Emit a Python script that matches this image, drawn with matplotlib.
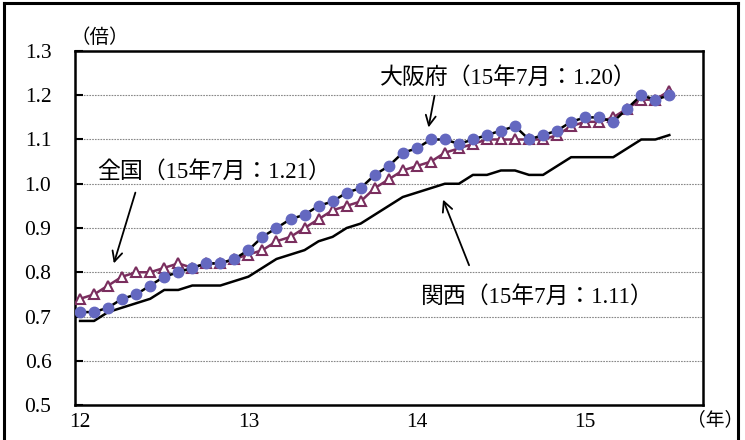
import matplotlib
matplotlib.use("Agg")
import matplotlib.pyplot as plt
from matplotlib.lines import Line2D

plt.rcParams['font.family'] = ['Liberation Serif', 'Noto Sans CJK JP']

# 月次データ: 2012年1月 ～ 2015年7月
osaka = [0.71, 0.71, 0.72, 0.74, 0.75, 0.77, 0.79, 0.80, 0.81, 0.82,
         0.82, 0.83, 0.85, 0.88, 0.90, 0.92, 0.93, 0.95, 0.96, 0.98,
         0.99, 1.02, 1.04, 1.07, 1.08, 1.10, 1.10, 1.09, 1.10, 1.11,
         1.12, 1.13, 1.10, 1.11, 1.12, 1.14, 1.15, 1.15, 1.14, 1.17,
         1.20, 1.19, 1.20]
zenkoku = [0.74, 0.75, 0.77, 0.79, 0.80, 0.80, 0.81, 0.82, 0.81, 0.82,
           0.82, 0.83, 0.84, 0.85, 0.87, 0.88, 0.90, 0.92, 0.94, 0.95,
           0.96, 0.99, 1.01, 1.03, 1.04, 1.05, 1.07, 1.08, 1.09, 1.10,
           1.10, 1.10, 1.10, 1.10, 1.11, 1.13, 1.14, 1.14, 1.15, 1.17,
           1.19, 1.19, 1.21]
kansai = [0.69, 0.69, 0.71, 0.72, 0.73, 0.74, 0.76, 0.76, 0.77, 0.77,
          0.77, 0.78, 0.79, 0.81, 0.83, 0.84, 0.85, 0.87, 0.88, 0.90,
          0.91, 0.93, 0.95, 0.97, 0.98, 0.99, 1.00, 1.00, 1.02, 1.02,
          1.03, 1.03, 1.02, 1.02, 1.04, 1.06, 1.06, 1.06, 1.06, 1.08,
          1.10, 1.10, 1.11]
year_ticks = [0, 12, 24, 36]
year_labels = ['12', '13', '14', '15']
y_ticks = [0.5, 0.6, 0.7, 0.8, 0.9, 1.0, 1.1, 1.2, 1.3]

months = list(range(len(osaka)))

fig = plt.figure(figsize=(7.45, 4.4), dpi=100)
ax = fig.add_axes([75 / 745, 35 / 440, 628 / 745, 354 / 440])

# 外枠
for xs, ys in [([4 / 745, 4 / 745], [0, 1 - 3 / 440]),
               ([4 / 745, 738 / 745], [1 - 3 / 440, 1 - 3 / 440]),
               ([738 / 745, 738 / 745], [0, 1 - 3 / 440])]:
    fig.add_artist(Line2D(xs, ys, color='black', lw=2.2, transform=fig.transFigure))

ax.plot(months, kansai, color='black', lw=1.8, zorder=3)
ax.plot(months, zenkoku, color='#7a2e5e', lw=1.8, marker='^', markersize=7,
        markerfacecolor='white', markeredgecolor='#7a2e5e', markeredgewidth=1.5, zorder=4)
ax.plot(months, osaka, color='black', lw=1.8, marker='o', markersize=7.5,
        markerfacecolor='#6468c0', markeredgecolor='#6468c0', zorder=5)

ax.set_xlim(-0.36, 44.4)
ax.set_ylim(0.5, 1.3)
ax.set_yticks(y_ticks)
ax.set_yticklabels([f'{v:.1f}' for v in y_ticks], fontsize=15.5)
ax.set_xticks(year_ticks)
ax.set_xticklabels(year_labels, fontsize=15.5)
ax.tick_params(axis='y', direction='in', length=6, width=1.5, pad=17)
ax.tick_params(axis='x', length=0, pad=6)
for v in y_ticks[1:-1]:
    ax.axhline(v, color='#888888', lw=0.8, ls=(0, (1.5, 1)), zorder=1)
for s in ax.spines.values():
    s.set_linewidth(1.8)

fig.text(100 / 745, 1 - 38 / 440, '（倍）', fontsize=14, ha='center', va='center')
fig.text(715 / 745, 1 - 420 / 440, '（年）', fontsize=13.5, ha='center', va='center')

ax.text(30.5, 1.239, '大阪府（15年7月：1.20）', fontsize=16.5, ha='center', va='center')
ax.text(9.52, 1.027, '全国（15年7月：1.21）', fontsize=16.5, ha='center', va='center')
ax.text(32.56, 0.744, '関西（15年7月：1.11）', fontsize=16.5, ha='center', va='center')

arrow = dict(arrowstyle='->', color='black', lw=1.3, mutation_scale=18)
ax.annotate('', xy=(24.8, 1.121), xytext=(25.3, 1.205), arrowprops=arrow)
ax.annotate('', xy=(2.35, 0.814), xytext=(4.0, 0.986), arrowprops=arrow)
ax.annotate('', xy=(25.8, 0.97), xytext=(27.8, 0.81), arrowprops=arrow)

fig.savefig('out.png', dpi=100)
